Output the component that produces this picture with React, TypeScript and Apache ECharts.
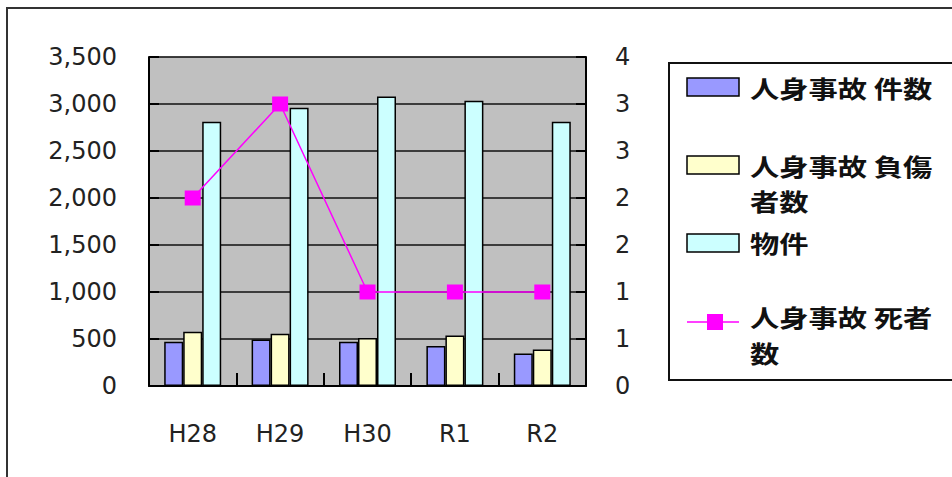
import React, { useEffect, useRef } from "react";
import * as echarts from "echarts";

const categories = ["H28", "H29", "H30", "R1", "R2"];
const injuryAccidents = [470, 495, 470, 425, 345];
const injuredPersons = [578, 557, 510, 537, 388];
const propertyAccidents = [2810, 2960, 3080, 3035, 2810];
const deaths = [2, 3, 1, 1, 1];

const seriesNames = ["人身事故 件数", "人身事故 負傷者数", "物件", "人身事故 死者数"];
const legendLines = [["人身事故 件数"], ["人身事故 負傷", "者数"], ["物件"], ["人身事故 死者", "数"]];

const leftAxisMax = 3500;
const leftAxisInterval = 500;
const rightAxisMax = 3.5;
const rightAxisInterval = 0.5;

const colors = ["#9999FF", "#FFFFCC", "#CCFFFF", "#FF00FF"];

export default function App() {
  const ref = useRef<HTMLDivElement>(null);

  useEffect(() => {
    document.body.style.margin = "0";
    if (!ref.current) return;
    const chart = echarts.init(ref.current, null, { renderer: "svg" });
    const labelFont = {
      color: "#222",
      fontFamily: "DejaVu Sans",
      fontSize: 24,
    };
    const legendFont = {
      fontFamily: "Noto Sans CJK JP",
      fontSize: 24,
      fontWeight: "bold" as const,
      fill: "#111",
      verticalAlign: "middle" as const,
    };
    const barStyle = (c: string) => ({
      color: c,
      borderColor: "#000",
      borderWidth: 1.5,
    });

    // legend line centres (first line of each item, continuation lines below)
    const legendTextY = [[88], [166, 201], [243], [317, 353]];
    const legendTexts: any[] = [];
    legendLines.forEach((lines, i) => {
      lines.forEach((t, j) => {
        legendTexts.push({
          type: "text",
          x: 750,
          y: legendTextY[i][j],
          scaleX: 1.22,
          style: { ...legendFont, text: t },
          z: 11,
        });
      });
    });

    chart.setOption({
      animation: false,
      backgroundColor: "#fff",
      grid: {
        left: 149,
        right: 366,
        top: 57,
        bottom: 91,
        show: true,
        backgroundColor: "#C0C0C0",
        borderColor: "#999",
        borderWidth: 1,
      },
      legend: { show: false },
      xAxis: {
        type: "category",
        data: categories,
        boundaryGap: true,
        axisLine: { show: true, lineStyle: { color: "#000", width: 2 } },
        axisTick: { show: true, inside: true, length: 13, interval: 0, lineStyle: { color: "#000", width: 2 } },
        axisLabel: { ...labelFont, margin: 36, interval: 0 },
        splitLine: { show: false },
      },
      yAxis: [
        {
          type: "value",
          min: 0,
          max: leftAxisMax,
          interval: leftAxisInterval,
          axisLine: { show: true, lineStyle: { color: "#000", width: 2 } },
          axisTick: { show: true, inside: true, length: 10, lineStyle: { color: "#000", width: 2 } },
          axisLabel: {
            ...labelFont,
            margin: 32,
            formatter: (v: number) => v.toLocaleString("en-US"),
          },
          splitLine: { show: true, lineStyle: { color: "#111", width: 1.5 } },
        },
        {
          type: "value",
          min: 0,
          max: rightAxisMax,
          interval: rightAxisInterval,
          position: "right",
          axisLine: { show: true, lineStyle: { color: "#000", width: 2 } },
          axisTick: { show: true, inside: true, length: 10, lineStyle: { color: "#000", width: 2 } },
          axisLabel: {
            ...labelFont,
            margin: 29,
            formatter: (v: number) => String(Math.round(v)),
          },
          splitLine: { show: false },
        },
      ],
      series: [
        {
          name: seriesNames[0],
          type: "bar",
          data: injuryAccidents,
          barWidth: 19,
          barGap: "0%",
          itemStyle: barStyle(colors[0]),
        },
        {
          name: seriesNames[1],
          type: "bar",
          data: injuredPersons,
          barWidth: 19,
          barGap: "0%",
          itemStyle: barStyle(colors[1]),
        },
        {
          name: seriesNames[2],
          type: "bar",
          data: propertyAccidents,
          barWidth: 19,
          barGap: "0%",
          itemStyle: barStyle(colors[2]),
        },
        {
          name: seriesNames[3],
          type: "line",
          yAxisIndex: 1,
          data: deaths,
          symbol: "rect",
          symbolSize: [16, 15],
          z: 5,
          lineStyle: { color: colors[3], width: 1.5 },
          itemStyle: { color: colors[3] },
        },
      ],
      graphic: [
        {
          type: "rect",
          shape: { x: 7, y: 8, width: 1000, height: 600 },
          style: { fill: "none", stroke: "#333", lineWidth: 2 },
          silent: true,
          z: -10,
        },
        {
          type: "rect",
          shape: { x: 669, y: 63, width: 400, height: 317 },
          style: { fill: "#fff", stroke: "#111", lineWidth: 2 },
          z: 10,
        },
        {
          type: "rect",
          shape: { x: 687, y: 78, width: 52, height: 18 },
          style: { fill: colors[0], stroke: "#000", lineWidth: 1.5 },
          z: 11,
        },
        {
          type: "rect",
          shape: { x: 687, y: 156, width: 52, height: 18 },
          style: { fill: colors[1], stroke: "#000", lineWidth: 1.5 },
          z: 11,
        },
        {
          type: "rect",
          shape: { x: 687, y: 234, width: 52, height: 18 },
          style: { fill: colors[2], stroke: "#000", lineWidth: 1.5 },
          z: 11,
        },
        {
          type: "line",
          shape: { x1: 687, y1: 322, x2: 739, y2: 322 },
          style: { stroke: colors[3], lineWidth: 1.5 },
          z: 11,
        },
        {
          type: "rect",
          shape: { x: 707, y: 314, width: 16, height: 16 },
          style: { fill: colors[3] },
          z: 12,
        },
        ...legendTexts,
      ],
    });
    return () => chart.dispose();
  }, []);

  return <div ref={ref} style={{ width: 952, height: 477 }} />;
}
